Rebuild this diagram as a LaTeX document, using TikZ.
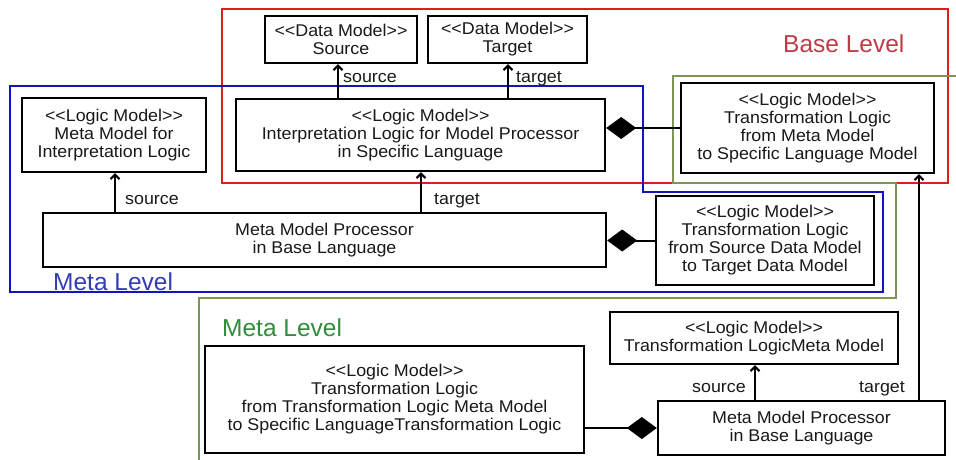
\documentclass[tikz,border=0pt]{standalone}
\usepackage{fontspec}
\newfontfamily\diagfont{Liberation Sans}[FakeStretch=1.05, Ligatures=TeXOff]
\newfontfamily\levelfont{Liberation Sans}
\usetikzlibrary{arrows.meta}
\definecolor{baseframe}{RGB}{220,30,30}
\definecolor{basetext}{RGB}{190,60,70}
\definecolor{metaframe}{RGB}{20,20,190}
\definecolor{metatext}{RGB}{50,60,180}
\definecolor{logicframe}{RGB}{125,150,85}
\definecolor{logictext}{RGB}{50,140,60}
\definecolor{ink}{RGB}{25,25,25}
\begin{document}
\begin{tikzpicture}[x=1pt,y=-1pt,
  box/.style={draw=black, line width=2.4pt, fill=white, align=center, inner sep=0pt,
    text=ink, font=\diagfont\fontsize{17}{18}\selectfont},
  lbl/.style={inner sep=0pt, text=ink, font=\diagfont\fontsize{17}{18}\selectfont},
  title/.style={inner sep=0pt, anchor=base west, font=\levelfont\fontsize{24.5}{28}\selectfont},
  arr/.style={line width=2pt, -{Straight Barb[length=4.5pt,width=9pt]}},
  agg/.style={line width=2pt, -{Diamond[length=30pt,width=22pt]}},
  frame/.style={line width=2.2pt}]
\useasboundingbox (0,0) rectangle (956,459);

% level frames
\draw[frame, baseframe] (222,9) rectangle (948,183);
\draw[frame, metaframe] (10,86) -- (643,86) -- (643,192) -- (883,192)
  -- (883,292) -- (10,292) -- cycle;
\draw[frame, logicframe] (958,76) -- (673,76) -- (673,183) -- (896,183)
  -- (896,298) -- (199,298) -- (199,461);

\node[title, text=basetext] (tbase) at (783,52) {Base Level};
\node[title, text=metatext] (tmeta) at (53,290) {Meta Level};
\node[title, text=logictext] (tlogic) at (222,336) {Meta Level};

% base level
\node[box, minimum width=152, minimum height=47] (ds) at (341,39.5)
  {<<Data Model>>\\Source};
\node[box, minimum width=159, minimum height=47] (dt) at (507.5,39.5)
  {<<Data Model>>\\Target};
\node[box, minimum width=369, minimum height=72] (interp) at (420.5,135)
  {<<Logic Model>>\\Interpretation Logic for Model Processor\\in Specific Language};
\node[box, minimum width=253, minimum height=90] (tlmm) at (807.5,128)
  {<<Logic Model>>\\Transformation Logic\\from Meta Model\\to Specific Language Model};

% meta level
\node[box, minimum width=184, minimum height=74] (mmil) at (114,135)
  {<<Logic Model>>\\Meta Model for\\Interpretation Logic};
\node[box, minimum width=563, minimum height=54] (mmp) at (324.5,240)
  {Meta Model Processor\\in Base Language};
\node[box, minimum width=218, minimum height=89] (tlsd) at (765,240.5)
  {<<Logic Model>>\\Transformation Logic\\from Source Data Model\\to Target Data Model};

% meta level of the transformation logic
\node[box, minimum width=288, minimum height=52] (tlmeta) at (754,338)
  {<<Logic Model>>\\Transformation LogicMeta Model};
\node[box, minimum width=379, minimum height=107] (tlsl) at (394.5,399.5)
  {<<Logic Model>>\\Transformation Logic\\from Transformation Logic Meta Model\\to Specific LanguageTransformation Logic};
\node[box, minimum width=287, minimum height=54] (mmp2) at (801.5,428)
  {Meta Model Processor\\in Base Language};

% source / target associations
\draw[arr] (interp.north -| 338,0) -- (ds.south -| 338,0);
\draw[arr] (interp.north -| 508,0) -- (dt.south -| 508,0);
\draw[arr] (mmp.north -| 115,0) -- (mmil.south -| 115,0);
\draw[arr] (mmp.north -| 421,0) -- (interp.south -| 421,0);
\draw[arr] (mmp2.north -| 755,0) -- (tlmeta.south -| 755,0);
\draw[arr] (mmp2.north -| 919,0) -- (tlmm.south -| 919,0);

\node[lbl, anchor=base west] (l1) at (343,82) {source};
\node[lbl, anchor=base west] (l2) at (516,82) {target};
\node[lbl, anchor=base west] (l3) at (125,204) {source};
\node[lbl, anchor=base west] (l4) at (434,204) {target};
\node[lbl, anchor=base west] (l5) at (692,392) {source};
\node[lbl, anchor=base west] (l6) at (859,392) {target};

% compositions
\draw[agg] (tlmm.west) -- (interp.east |- tlmm.west);
\draw[agg] (tlsd.west) -- (mmp.east |- tlsd.west);
\draw[agg] (tlsl.east |- mmp2.west) -- (mmp2.west);
\end{tikzpicture}
\end{document}
